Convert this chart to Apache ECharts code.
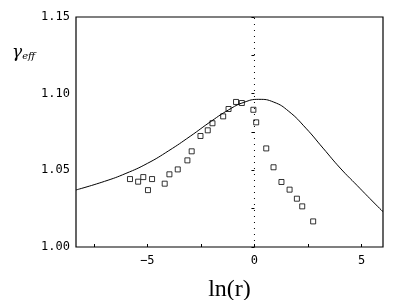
<!DOCTYPE html>
<html><head><meta charset="utf-8">
<script src="https://cdn.jsdelivr.net/npm/echarts@6/dist/echarts.min.js"></script>
<style>html,body{margin:0;padding:0;background:#fff}#c{width:415px;height:300px}</style>
</head><body><div id="c"></div>
<script>
// Theory curve (ln r, gamma_eff)
const curveX = [-8.33, -7.0, -6.0, -5.0, -4.0, -3.0, -2.0, -1.2, -0.5, 0.2, 0.9, 1.6, 2.4, 3.2, 4.0, 4.8, 5.5, 6.0];
const curveY = [1.0372, 1.0428, 1.0480, 1.0545, 1.0628, 1.0722, 1.0822, 1.0895, 1.0943, 1.0963, 1.0945, 1.0885, 1.0775, 1.0645, 1.0515, 1.0400, 1.0300, 1.0230];
// Measured points
const ptsX = [-5.81, -5.43, -5.19, -4.97, -4.78, -4.19, -3.97, -3.58, -3.13, -2.93, -2.52, -2.18, -1.96, -1.46, -1.21, -0.86, -0.59, -0.05, 0.08, 0.55, 0.89, 1.26, 1.64, 1.98, 2.23, 2.74];
const ptsY = [1.0443, 1.0426, 1.0456, 1.0371, 1.0443, 1.0413, 1.0474, 1.0506, 1.0565, 1.0624, 1.0724, 1.0761, 1.0807, 1.0852, 1.09, 1.0946, 1.0939, 1.0895, 1.0813, 1.0643, 1.052, 1.0424, 1.0374, 1.0315, 1.0265, 1.0167];
const xTickLabels = [-5, 0, 5];
const xTicks = [-7.5, -5, -2.5, 0, 2.5, 5];
const yMin = 1.0, yMax = 1.15, yStep = 0.05;
const xMin = -8.33, xMax = 6;

const chart = echarts.init(document.getElementById('c'));
chart.setOption({
  animation: false,
  backgroundColor: '#fff',
  grid: {left: 76, right: 32, top: 17, bottom: 53, containLabel: false, outerBoundsMode: 'none',
    show: true, borderColor: '#000', borderWidth: 1.2, backgroundColor: 'transparent'},
  xAxis: {
    type: 'value', min: xMin, max: xMax,
    axisLine: {show: false},
    splitLine: {show: false},
    axisTick: {show: true, inside: true, length: 3, lineStyle: {color: '#000'}, customValues: xTicks},
    axisLabel: {customValues: xTickLabels, color: '#000', fontFamily: 'DejaVu Sans Mono', fontSize: 12, margin: 8,
      formatter: v => v < 0 ? '\u2212' + Math.abs(v) : String(v)},
    name: 'ln(r)', nameLocation: 'middle', nameGap: 31,
    nameTextStyle: {fontFamily: 'Liberation Serif', fontSize: 24, color: '#000'}
  },
  yAxis: {
    type: 'value', min: yMin, max: yMax, interval: yStep,
    axisLine: {show: false},
    splitLine: {show: false},
    axisTick: {show: true, inside: false, length: 3, lineStyle: {color: '#000'}},
    minorTick: {show: true, splitNumber: 2, length: 3, lineStyle: {color: '#000'}},
    axisLabel: {color: '#000', fontFamily: 'DejaVu Sans Mono', fontSize: 12, margin: 6, formatter: v => v.toFixed(2)}
  },
  graphic: [{
    type: 'text', left: 12, top: 44,
    style: {
      rich: {
        g: {fontFamily: 'DejaVu Serif', fontStyle: 'italic', fontSize: 17, fill: '#000'},
        s: {fontFamily: 'DejaVu Serif', fontStyle: 'italic', fontSize: 10, fill: '#000', padding: [8, 0, 0, 0]}
      },
      text: '{g|γ}{s|eff}'
    }
  }],
  series: [
    {type: 'line', data: [[0, yMin], [0, yMax]], symbol: 'none', silent: true,
      lineStyle: {color: '#000', width: 1, type: [1, 5]}},
    {type: 'line', data: curveX.map((x, i) => [x, curveY[i]]), smooth: 0.5, symbol: 'none',
      lineStyle: {color: '#000', width: 1}},
    {type: 'scatter', data: ptsX.map((x, i) => [x, ptsY[i]]), symbol: 'rect', symbolSize: 5,
      itemStyle: {color: '#fff', borderColor: '#000', borderWidth: 1}}
  ]
});
</script></body></html>
